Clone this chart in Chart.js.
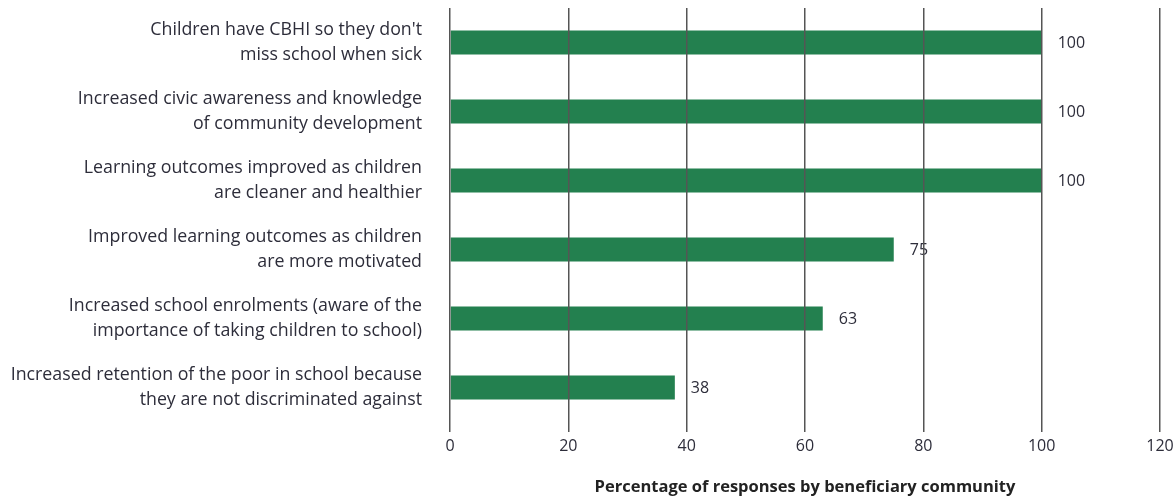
<!DOCTYPE html>
<html>
<head>
<meta charset="utf-8">
<script src="https://cdn.jsdelivr.net/npm/chart.js@4"></script>
<style>
  html, body { margin: 0; padding: 0; background: #fff; }
  #wrap { width: 1175px; height: 502px; position: relative; }
</style>
</head>
<body>
<div id="wrap"><canvas id="grafico"></canvas></div>
<script>
// Beneficios percibidos (% de respuestas por comunidad)
const categorias = [
    ['Children have CBHI so they don\'t', 'miss school when sick'],
    ['Increased civic awareness and knowledge', 'of community development'],
    ['Learning outcomes improved as children', 'are cleaner and healthier'],
    ['Improved learning outcomes as children', 'are more motivated'],
    ['Increased school enrolments (aware of the', 'importance of taking children to school)'],
    ['Increased retention of the poor in school because', 'they are not discriminated against']
];
const porcentajes = [100, 100, 100, 75, 63, 38];
const ticksX = [0, 20, 40, 60, 80, 100, 120];
const tituloX = 'Percentage of responses by beneficiary community';

const fuente = "'Open Sans', sans-serif";
const verde = '#23804f';
const gris = '#555555';
const texto = '#2d2d3a';

// Escribe el valor al final de cada barra
const etiquetasValor = {
    id: 'etiquetasValor',
    afterDatasetsDraw(chart) {
        const ctx = chart.ctx;
        const meta = chart.getDatasetMeta(0);
        ctx.save();
        ctx.font = '16px ' + fuente;
        ctx.fillStyle = texto;
        ctx.textAlign = 'left';
        ctx.textBaseline = 'middle';
        meta.data.forEach((barra, i) => {
            ctx.fillText(String(porcentajes[i]), barra.x + 16, barra.y + 1);
        });
        ctx.restore();
    }
};

new Chart(document.getElementById('grafico'), {
    type: 'bar',
    data: {
        labels: categorias,
        datasets: [{
            data: porcentajes,
            backgroundColor: verde,
            borderWidth: 0,
            barPercentage: 0.35,
            categoryPercentage: 1
        }]
    },
    options: {
        indexAxis: 'y',
        responsive: true,
        maintainAspectRatio: false,
        animation: false,
        layout: { padding: { top: 8, right: 0, bottom: 0, left: 0 } },
        plugins: {
            legend: { display: false },
            tooltip: { enabled: false }
        },
        scales: {
            x: {
                min: 0,
                max: 120,
                afterBuildTicks(scale) {
                    scale.ticks = ticksX.map(v => ({ value: v }));
                },
                afterFit(scale) {
                    scale.height = 80;
                    scale.paddingLeft = 0;
                    scale.paddingRight = 15;
                },
                grid: {
                    color: gris,
                    lineWidth: 1.5,
                    tickLength: 10,
                    z: 1
                },
                border: { display: false },
                ticks: {
                    color: texto,
                    font: { family: fuente, size: 16 },
                    padding: 5
                },
                title: {
                    display: true,
                    text: tituloX,
                    color: '#222',
                    font: { family: fuente, size: 16.5, weight: 'bold' },
                    padding: { top: 0, bottom: 5 }
                }
            },
            y: {
                afterFit(scale) {
                    scale.width = 450;
                    scale.paddingTop = 0;
                    scale.paddingBottom = 0;
                },
                grid: { display: false, drawTicks: false },
                border: { display: false },
                ticks: {
                    color: texto,
                    font: { family: fuente, size: 17.8, lineHeight: 1.4 },
                    padding: 28
                }
            }
        }
    },
    plugins: [etiquetasValor]
});
</script>
</body>
</html>
